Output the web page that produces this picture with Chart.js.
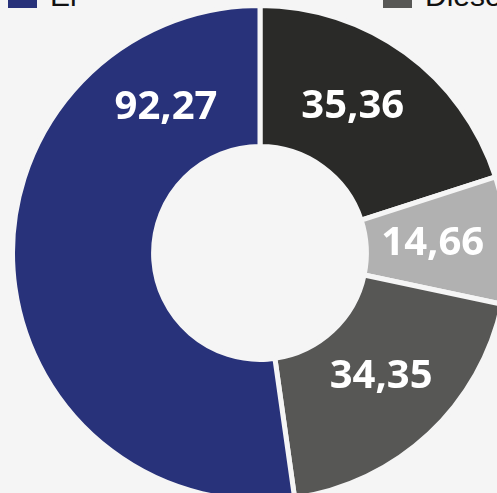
<!DOCTYPE html>
<html>
<head>
<meta charset="utf-8">
<script src="https://cdn.jsdelivr.net/npm/chart.js@4"></script>
<style>
    html, body { margin: 0; padding: 0; background: #f5f5f5; overflow: hidden; width: 497px; height: 493px; }
    #wrap { position: absolute; left: 0; top: 3px; width: 520px; height: 500px; }
    #legend { position: absolute; left: 0; top: -60px; width: 800px; font-family: "Liberation Sans", Arial, sans-serif; font-size: 30px; color: #111; }
    .row { display: flex; height: 34px; align-items: flex-end; }
    .item { display: flex; align-items: flex-end; width: 375px; flex: none; }
    .item:first-child { margin-left: 8px; }
    .box { width: 29px; height: 22px; margin-right: 13px; flex: none; }
    .txt { line-height: 30px; position: relative; top: 3px; }
</style>
</head>
<body>
<div id="legend"></div>
<div id="wrap"><canvas id="chart"></canvas></div>
<script>
// slices, clockwise from the top
const categories = ['Bensin', 'Laddhybrid', 'Diesel', 'El'];
const values = [35.36, 14.66, 34.35, 92.27];
const colors = ['#2a2a28', '#b1b1b1', '#575755', '#28327a'];
// legend rows (only the last one shows inside the frame)
const legendRows = [['Bensin', 'Laddhybrid'], ['El', 'Diesel']];
// where along each arc the value sits (0 = start, 1 = end)
const labelSpot = [0.45, 0.5, 0.48, 0.825];

function buildLegend() {
    const legend = document.getElementById('legend');
    legendRows.forEach(row => {
        const r = document.createElement('div');
        r.className = 'row';
        row.forEach(name => {
            const it = document.createElement('div');
            it.className = 'item';
            it.innerHTML = '<span class="box" style="background:' + colors[categories.indexOf(name)] + '"></span><span class="txt">' + name + '</span>';
            r.appendChild(it);
        });
        legend.appendChild(r);
    });
}

const valueLabels = {
    id: 'valueLabels',
    afterDatasetsDraw(chart) {
        const ctx = chart.ctx;
        const meta = chart.getDatasetMeta(0);
        ctx.save();
        ctx.fillStyle = '#ffffff';
        ctx.font = '700 40px "Open Sans", sans-serif';
        ctx.textAlign = 'center';
        ctx.textBaseline = 'middle';
        meta.data.forEach((arc, i) => {
            const p = arc.getProps(['x', 'y', 'startAngle', 'endAngle', 'innerRadius', 'outerRadius'], true);
            const a = p.startAngle + (p.endAngle - p.startAngle) * labelSpot[i];
            const r = (p.innerRadius + p.outerRadius) / 2 - 4;
            const txt = values[i].toFixed(2).replace('.', ',');
            ctx.fillText(txt, p.x + Math.cos(a) * r, p.y + Math.sin(a) * r);
        });
        ctx.restore();
    }
};

document.addEventListener('DOMContentLoaded', function() {
    buildLegend();
    new Chart(document.getElementById('chart'), {
        type: 'doughnut',
        data: {
            labels: categories,
            datasets: [{
                data: values,
                backgroundColor: colors,
                borderColor: '#f5f5f5',
                borderWidth: 5,
                hoverOffset: 0
            }]
        },
        options: {
            responsive: true,
            maintainAspectRatio: false,
            animation: false,
            cutout: '43%',
            layout: { padding: 0 },
            plugins: {
                legend: { display: false },
                tooltip: { enabled: false }
            }
        },
        plugins: [valueLabels]
    });
});
</script>
</body>
</html>
